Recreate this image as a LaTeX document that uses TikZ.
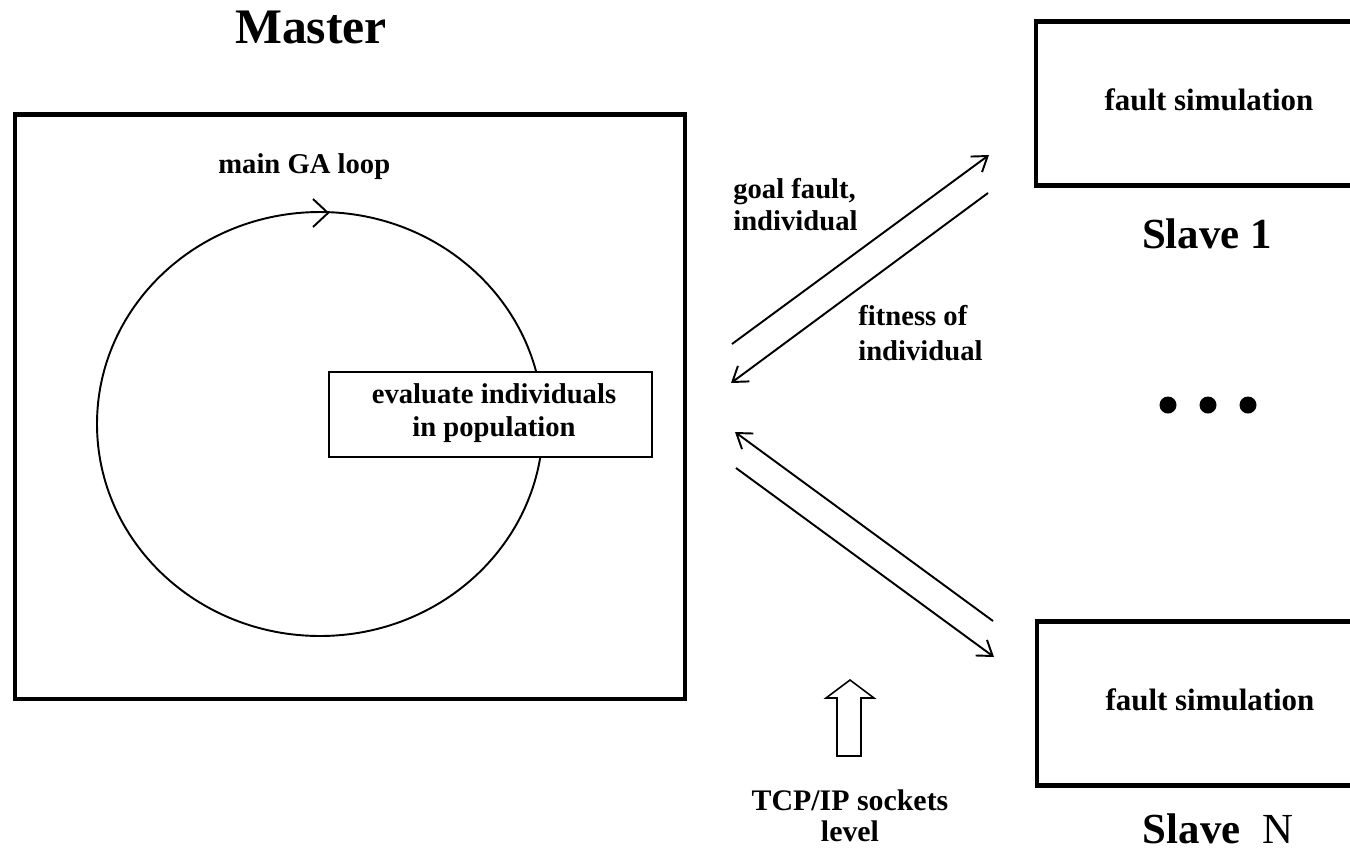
\documentclass[tikz,border=0pt]{standalone}
\usepackage{fontspec}
\setmainfont{Liberation Serif}
\usetikzlibrary{arrows.meta}
\tikzset{
  bigbox/.style={draw, line width=2.6pt},
  thin/.style={line width=1.1pt},
  msg/.style={line width=1.1pt, -{Straight Barb[length=8pt,width=11pt,line width=1.1pt]}},
  lbl/.style={inner sep=0pt, anchor=base west, font=\bfseries\fontsize{16.3}{19}\selectfont},
  lblc/.style={inner sep=0pt, anchor=base, font=\bfseries\fontsize{16.3}{19}\selectfont},
  title/.style={inner sep=0pt, anchor=base, font=\bfseries\fontsize{24.4}{28}\selectfont},
}
\begin{document}
\begin{tikzpicture}[x=0.02cm,y=-0.02cm]
\useasboundingbox (0,0) rectangle (1350,853);
% master box
\draw[bigbox] (15,114.5) rectangle (685,699);
\node[inner sep=0pt, anchor=base, font=\bfseries\fontsize{28.3}{32}\selectfont] (master) at (311,43) {Master};
% loop
\draw[thin] (320,424) ellipse [x radius=223, y radius=212];
\coordinate (looptop) at (328,213);
\draw[thin] (313,199) -- (looptop) -- (313,227);
\node[lbl] (ga) at (218,173) {main GA loop};
% evaluate box
\path[fill=white, draw, line width=1.1pt] (329,372) rectangle (652,457);
\node[lblc] (ev1) at (494,403) {evaluate individuals};
\node[lblc] (ev2) at (494,436) {in population};
% slaves
\draw[bigbox] (1400,21.5) -- (1036,21.5) -- (1036,185.5) -- (1400,185.5);
\draw[bigbox] (1400,621.5) -- (1037,621.5) -- (1037,785.5) -- (1400,785.5);
\node[inner sep=0pt, anchor=base, font=\bfseries\fontsize{17.6}{20}\selectfont] (fs1) at (1209,110) {fault simulation};
\node[inner sep=0pt, anchor=base, font=\bfseries\fontsize{17.6}{20}\selectfont] (fs2) at (1210,710) {fault simulation};
\node[title] (s1) at (1207,248) {Slave 1};
\node[title] (sn) at (1218,843) {Slave\ \ \mdseries N};
\fill (1168,405) circle (8.5) (1208,405) circle (8.5) (1248,405) circle (8.5);
% message arrows
\coordinate (a1) at (732,344); \coordinate (b1) at (989,155);
\coordinate (a2) at (988,193); \coordinate (b2) at (731,383);
\coordinate (a3) at (993,621); \coordinate (b3) at (735,432);
\coordinate (a4) at (736,468); \coordinate (b4) at (994,657);
\draw[msg] (a1) -- (b1);
\draw[msg] (a2) -- (b2);
\draw[msg] (a3) -- (b3);
\draw[msg] (a4) -- (b4);
\node[lbl] (gf1) at (733,198) {goal fault,};
\node[lbl] (gf2) at (733,230) {individual};
\node[lbl] (fi1) at (858,325) {fitness of};
\node[lbl] (fi2) at (858,360) {individual};
% hollow arrow
\draw[line width=0.9pt, line join=miter] (837,756) -- (837,698) -- (826,698) -- (850,680) -- (874,698) -- (861,698) -- (861,756) -- cycle;
\node[inner sep=0pt, anchor=base, font=\bfseries\fontsize{17}{20}\selectfont] (tcp1) at (850,810) {TCP/IP sockets};
\node[inner sep=0pt, anchor=base, font=\bfseries\fontsize{17}{20}\selectfont] (tcp2) at (850,841) {level};
\end{tikzpicture}
\end{document}
